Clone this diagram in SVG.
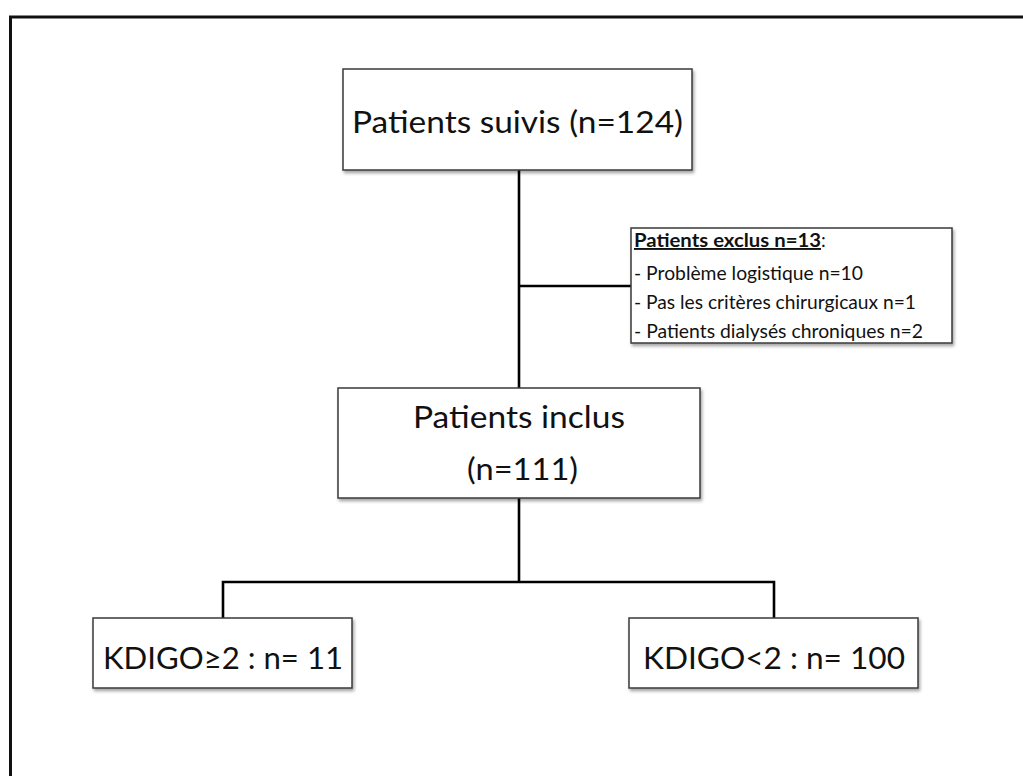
<svg xmlns="http://www.w3.org/2000/svg" width="1023" height="776" viewBox="0 0 1023 776">
  <defs>
    <filter id="sh" x="-10%" y="-10%" width="120%" height="130%">
      <feDropShadow dx="1.5" dy="2.5" stdDeviation="1.5" flood-color="#000" flood-opacity="0.35"/>
    </filter>
  </defs>
  <style>
    .box { fill: #ffffff; stroke: #3a3a3a; stroke-width: 1.5; filter: url(#sh); }
    .t { font-family: Lato, "Open Sans", "Liberation Sans", sans-serif; fill: #111; }
    .big { font-size: 31px; }
    .small { font-size: 19px; }
    .conn { fill: none; stroke: #000; stroke-width: 2.6; }
  </style>
  <rect width="1023" height="776" fill="#ffffff"/>
  <path d="M10.5,776 V17 H1023" fill="none" stroke="#111" stroke-width="3"/>

  <g id="connectors">
    <line class="conn" x1="519" y1="170" x2="519" y2="388"/>
    <line class="conn" x1="519" y1="286" x2="631" y2="286"/>
    <line class="conn" x1="519" y1="498" x2="519" y2="582"/>
    <path class="conn" d="M223,618 V582 H774 V618"/>
  </g>

  <g id="node-suivis">
    <rect class="box" x="343" y="69" width="349" height="101"/>
    <text class="t big" x="352" y="133" textLength="331" lengthAdjust="spacingAndGlyphs">Patients suivis (n=124)</text>
  </g>

  <g id="node-exclus">
    <rect class="box" x="631" y="228" width="321" height="115"/>
    <text class="t small" x="634" y="247"><tspan font-weight="bold" text-decoration="underline" textLength="187" lengthAdjust="spacingAndGlyphs">Patients exclus n=13</tspan>:</text>
    <text class="t small" x="634" y="280" textLength="229" lengthAdjust="spacingAndGlyphs">- Problème logistique n=10</text>
    <text class="t small" x="634" y="309" textLength="282" lengthAdjust="spacingAndGlyphs">- Pas les critères chirurgicaux n=1</text>
    <text class="t small" x="634" y="338" textLength="289" lengthAdjust="spacingAndGlyphs">- Patients dialysés chroniques n=2</text>
  </g>

  <g id="node-inclus">
    <rect class="box" x="338" y="388" width="362" height="110"/>
    <text class="t big" x="413" y="428" textLength="212" lengthAdjust="spacingAndGlyphs">Patients inclus</text>
    <text class="t big" x="467" y="480" textLength="111" lengthAdjust="spacingAndGlyphs">(n=111)</text>
  </g>

  <g id="node-kdigo-ge2">
    <rect class="box" x="93" y="618" width="259" height="70"/>
    <text class="t big" x="103" y="669" textLength="240" lengthAdjust="spacingAndGlyphs">KDIGO≥2 : n= 11</text>
  </g>

  <g id="node-kdigo-lt2">
    <rect class="box" x="629" y="618" width="289" height="70"/>
    <text class="t big" x="643" y="669" textLength="262" lengthAdjust="spacingAndGlyphs">KDIGO&lt;2 : n= 100</text>
  </g>
</svg>
